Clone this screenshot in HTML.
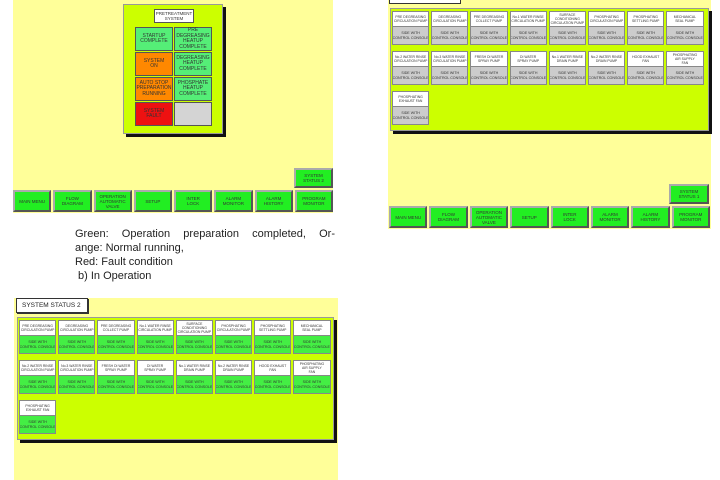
<!DOCTYPE html>
<html><head><meta charset="utf-8"><style>
*{box-sizing:border-box;margin:0;padding:0}
body{width:720px;height:480px;background:#fff;position:relative;overflow:hidden;font-family:"Liberation Sans",sans-serif}
.a{position:absolute}
.y{background:#ffff99}
.gp{background:#ccff00;box-shadow:3px 3px 0 #111;border:1px solid #999}
.t{display:flex;align-items:center;justify-content:center;text-align:center;font-size:5px;line-height:5.5px;color:#333;border:1px solid #555}
.nav{position:absolute;display:flex;gap:2px}
.nav div{flex:1;background:#22ee22;border:2px solid #aaa;border-right-color:#555;border-bottom-color:#555;display:flex;align-items:center;justify-content:center;text-align:center;font-size:4.5px;line-height:5px;color:#333;white-space:nowrap}
.grid{position:absolute;display:grid;grid-template-columns:repeat(8,37.2px);column-gap:2px;row-gap:6px;padding:3px 2px}
.c{background:#888;padding:1px;height:34px;display:flex;flex-direction:column;gap:1px;overflow:hidden}
.c .l{background:#fff;height:14px;display:flex;align-items:center;justify-content:center;text-align:center;font-size:3.4px;line-height:4px;color:#333;white-space:nowrap;overflow:hidden}
.c .b{flex:1;display:flex;align-items:center;justify-content:center;text-align:center;font-size:3.6px;line-height:4.6px;color:#333;white-space:nowrap;overflow:hidden}
.g1 .b{background:#ccc}
.g2 .b{background:#44ee44}
.txt{font-size:11px;line-height:14px;color:#222}
</style></head><body>

<!-- panel 1 -->
<div class="a y" style="left:13px;top:0;width:320px;height:213px"></div>
<div class="a gp" style="left:123px;top:4px;width:100px;height:130px"></div>
<div class="a t" style="left:154px;top:9px;width:40px;height:14px;background:#fff;font-size:4.5px">PRETREATMENT<br>SYSTEM</div>
<div class="a t" style="left:135px;top:27px;width:38px;height:24px;background:#55ee77">STARTUP<br>COMPLETE</div>
<div class="a t" style="left:174px;top:27px;width:38px;height:24px;background:#55ee77">PRE<br>DEGREASING<br>HEATUP<br>COMPLETE</div>
<div class="a t" style="left:135px;top:52px;width:38px;height:24px;background:#ff8800">SYSTEM<br>ON</div>
<div class="a t" style="left:174px;top:52px;width:38px;height:24px;background:#55ee77">DEGREASING<br>HEATUP<br>COMPLETE</div>
<div class="a t" style="left:135px;top:77px;width:38px;height:24px;background:#ff8800">AUTO STOP<br>PREPARATION<br>RUNNING</div>
<div class="a t" style="left:174px;top:77px;width:38px;height:24px;background:#55ee77">PHOSPHATE<br>HEATUP<br>COMPLETE</div>
<div class="a t" style="left:135px;top:102px;width:38px;height:24px;background:#ee1111">SYSTEM<br>FAULT</div>
<div class="a t" style="left:174px;top:102px;width:38px;height:24px;background:#d4d4d4"></div>
<div class="nav" style="left:294px;top:168px;width:39px;height:20px"><div>SYSTEM<br>STATUS 2</div></div>
<div class="nav" style="left:13px;top:190px;width:320px;height:22px">
<div>MAIN MENU</div><div>FLOW<br>DIAGRAM</div><div>OPERATION<br>AUTOMATIC<br>VALVE</div><div>SETUP</div><div>INTER<br>LOCK</div><div>ALARM<br>MONITOR</div><div>ALARM<br>HISTORY</div><div>PROGRAM<br>MONITOR</div></div>

<!-- panel 2 -->
<div class="a y" style="left:388px;top:0;width:323px;height:229px"></div>
<div class="a" style="left:389px;top:0;width:72px;height:4px;background:#fff;border:1px solid #333;border-top:none"></div>
<div class="a gp" style="left:390px;top:8px;width:319px;height:123px"></div>
<div class="grid g1" style="left:390px;top:8px">
<div class="c"><div class="l">PRE DEGREASING<br>CIRCULATION PUMP</div><div class="b">SIDE WITH<br>CONTROL CONSOLE</div></div>
<div class="c"><div class="l">DEGREASING<br>CIRCULATION PUMP</div><div class="b">SIDE WITH<br>CONTROL CONSOLE</div></div>
<div class="c"><div class="l">PRE DEGREASING<br>COLLECT PUMP</div><div class="b">SIDE WITH<br>CONTROL CONSOLE</div></div>
<div class="c"><div class="l">No.1 WATER RINSE<br>CIRCULATION PUMP</div><div class="b">SIDE WITH<br>CONTROL CONSOLE</div></div>
<div class="c"><div class="l">SURFACE<br>CONDITIONING<br>CIRCULATION PUMP</div><div class="b">SIDE WITH<br>CONTROL CONSOLE</div></div>
<div class="c"><div class="l">PHOSPHATING<br>CIRCULATION PUMP</div><div class="b">SIDE WITH<br>CONTROL CONSOLE</div></div>
<div class="c"><div class="l">PHOSPHATING<br>SETTLING PUMP</div><div class="b">SIDE WITH<br>CONTROL CONSOLE</div></div>
<div class="c"><div class="l">MECHANICAL<br>SEAL PUMP</div><div class="b">SIDE WITH<br>CONTROL CONSOLE</div></div>
<div class="c"><div class="l">No.2 WATER RINSE<br>CIRCULATION PUMP</div><div class="b">SIDE WITH<br>CONTROL CONSOLE</div></div>
<div class="c"><div class="l">No.3 WATER RINSE<br>CIRCULATION PUMP</div><div class="b">SIDE WITH<br>CONTROL CONSOLE</div></div>
<div class="c"><div class="l">FRESH DI WATER<br>SPRAY PUMP</div><div class="b">SIDE WITH<br>CONTROL CONSOLE</div></div>
<div class="c"><div class="l">DI WATER<br>SPRAY PUMP</div><div class="b">SIDE WITH<br>CONTROL CONSOLE</div></div>
<div class="c"><div class="l">No.1 WATER RINSE<br>DRAIN PUMP</div><div class="b">SIDE WITH<br>CONTROL CONSOLE</div></div>
<div class="c"><div class="l">No.2 WATER RINSE<br>DRAIN PUMP</div><div class="b">SIDE WITH<br>CONTROL CONSOLE</div></div>
<div class="c"><div class="l">HOOD EXHAUST<br>FAN</div><div class="b">SIDE WITH<br>CONTROL CONSOLE</div></div>
<div class="c"><div class="l">PHOSPHATING<br>AIR SUPPLY<br>FAN</div><div class="b">SIDE WITH<br>CONTROL CONSOLE</div></div>
<div class="c"><div class="l">PHOSPHATING<br>EXHAUST FAN</div><div class="b">SIDE WITH<br>CONTROL CONSOLE</div></div>
</div>
<div class="nav" style="left:669px;top:184px;width:40px;height:20px"><div>SYSTEM<br>STATUS 1</div></div>
<div class="nav" style="left:389px;top:206px;width:321px;height:22px">
<div>MAIN MENU</div><div>FLOW<br>DIAGRAM</div><div>OPERATION<br>AUTOMATIC<br>VALVE</div><div>SETUP</div><div>INTER<br>LOCK</div><div>ALARM<br>MONITOR</div><div>ALARM<br>HISTORY</div><div>PROGRAM<br>MONITOR</div></div>

<!-- text -->
<div class="a txt" style="left:75px;top:227px;width:260px;text-align:justify;text-align-last:justify">Green: Operation preparation completed, Or-</div>
<div class="a txt" style="left:75px;top:241px">ange: Normal running,</div>
<div class="a txt" style="left:75px;top:255px">Red: Fault condition</div>
<div class="a txt" style="left:78px;top:269px">b) In Operation</div>

<!-- panel 3 -->
<div class="a y" style="left:14px;top:298px;width:324px;height:182px"></div>
<div class="a" style="left:16px;top:298px;width:72px;height:15px;background:#fff;border:1px solid #333;box-shadow:1px 1px 0 #333;font-size:6.5px;line-height:13px;padding-left:5px;color:#222;white-space:nowrap">SYSTEM STATUS 2</div>
<div class="a gp" style="left:17px;top:317px;width:317px;height:123px"></div>
<div class="grid g2" style="left:17px;top:317px">
<div class="c"><div class="l">PRE DEGREASING<br>CIRCULATION PUMP</div><div class="b">SIDE WITH<br>CONTROL CONSOLE</div></div>
<div class="c"><div class="l">DEGREASING<br>CIRCULATION PUMP</div><div class="b">SIDE WITH<br>CONTROL CONSOLE</div></div>
<div class="c"><div class="l">PRE DEGREASING<br>COLLECT PUMP</div><div class="b">SIDE WITH<br>CONTROL CONSOLE</div></div>
<div class="c"><div class="l">No.1 WATER RINSE<br>CIRCULATION PUMP</div><div class="b">SIDE WITH<br>CONTROL CONSOLE</div></div>
<div class="c"><div class="l">SURFACE<br>CONDITIONING<br>CIRCULATION PUMP</div><div class="b">SIDE WITH<br>CONTROL CONSOLE</div></div>
<div class="c"><div class="l">PHOSPHATING<br>CIRCULATION PUMP</div><div class="b">SIDE WITH<br>CONTROL CONSOLE</div></div>
<div class="c"><div class="l">PHOSPHATING<br>SETTLING PUMP</div><div class="b">SIDE WITH<br>CONTROL CONSOLE</div></div>
<div class="c"><div class="l">MECHANICAL<br>SEAL PUMP</div><div class="b">SIDE WITH<br>CONTROL CONSOLE</div></div>
<div class="c"><div class="l">No.2 WATER RINSE<br>CIRCULATION PUMP</div><div class="b">SIDE WITH<br>CONTROL CONSOLE</div></div>
<div class="c"><div class="l">No.3 WATER RINSE<br>CIRCULATION PUMP</div><div class="b">SIDE WITH<br>CONTROL CONSOLE</div></div>
<div class="c"><div class="l">FRESH DI WATER<br>SPRAY PUMP</div><div class="b">SIDE WITH<br>CONTROL CONSOLE</div></div>
<div class="c"><div class="l">DI WATER<br>SPRAY PUMP</div><div class="b">SIDE WITH<br>CONTROL CONSOLE</div></div>
<div class="c"><div class="l">No.1 WATER RINSE<br>DRAIN PUMP</div><div class="b">SIDE WITH<br>CONTROL CONSOLE</div></div>
<div class="c"><div class="l">No.2 WATER RINSE<br>DRAIN PUMP</div><div class="b">SIDE WITH<br>CONTROL CONSOLE</div></div>
<div class="c"><div class="l">HOOD EXHAUST<br>FAN</div><div class="b">SIDE WITH<br>CONTROL CONSOLE</div></div>
<div class="c"><div class="l">PHOSPHATING<br>AIR SUPPLY<br>FAN</div><div class="b">SIDE WITH<br>CONTROL CONSOLE</div></div>
<div class="c"><div class="l">PHOSPHATING<br>EXHAUST FAN</div><div class="b">SIDE WITH<br>CONTROL CONSOLE</div></div>
</div>
</body></html>
